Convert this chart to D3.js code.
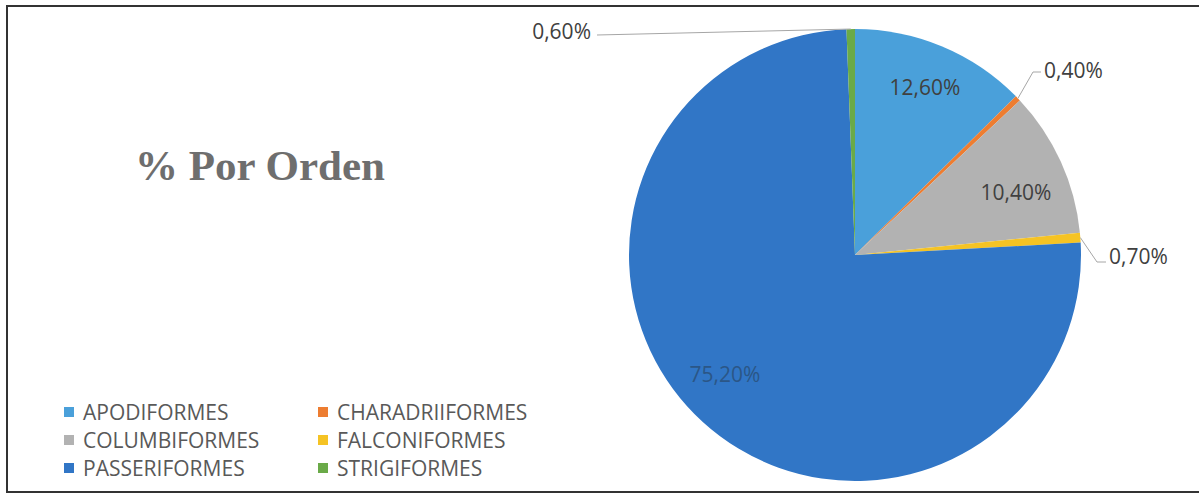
<!DOCTYPE html>
<html><head><meta charset="utf-8">
<script src="https://cdn.jsdelivr.net/npm/d3@7"></script>
<style>body{margin:0;background:#fff}svg{display:block}</style>
</head><body>
<svg id="c" width="1199" height="494"></svg>
<script>
const categories = ["APODIFORMES","CHARADRIIFORMES","COLUMBIFORMES","FALCONIFORMES","PASSERIFORMES","STRIGIFORMES"];
const values = [12.6, 0.4, 10.4, 0.7, 75.2, 0.6];
const labels = ["12,60%","0,40%","10,40%","0,70%","75,20%","0,60%"];
const colors = ["#4aa0da","#ed7d31","#b2b2b2","#f5c324","#3176c6","#6aaa48"];
const legendOrder = [0,1,2,3,4,5];

const svg = d3.select("#c");
svg.append("rect").attr("x",7).attr("y",6).attr("width",1200).attr("height",486)
  .attr("fill","none").attr("stroke","#333").attr("stroke-width",2);

svg.append("text").attr("x",260).attr("y",180).attr("text-anchor","middle")
  .attr("font-family","Liberation Serif").attr("font-weight","bold").attr("font-size",43)
  .attr("fill","#6e6e6e").text("% Por Orden");

const cx=855, cy=255, R=226;
const g = svg.append("g").attr("transform",`translate(${cx},${cy})`);
const pie = d3.pie().sort(null).value(d=>d)(values);
const arc = d3.arc().innerRadius(0).outerRadius(R);
g.selectAll("path").data(pie).join("path").attr("d",arc).attr("fill",(d,i)=>colors[i]);

const FS = 21;
const insidePos = {0:[70,-168],2:[161,-63],4:[-130,119]};
[0,2,4].forEach(i=>{
  g.append("text").attr("x",insidePos[i][0]).attr("y",insidePos[i][1]).attr("text-anchor","middle")
   .attr("dominant-baseline","central").attr("font-family","Open Sans").attr("font-size",FS)
   .attr("fill", i===4?"#2b5687":"#404040").text(labels[i]);
});

function edge(i){const a=(pie[i].startAngle+pie[i].endAngle)/2;return [Math.sin(a)*R,-Math.cos(a)*R];}
const leadStroke="#a6a6a6";
let e=edge(5);
g.append("path").attr("d",`M${e[0]},${e[1]}L${597-cx},${35-cy}`).attr("stroke",leadStroke).attr("fill","none");
g.append("text").attr("x",591-cx).attr("y",31-cy).attr("text-anchor","end").attr("dominant-baseline","central")
 .attr("font-family","Open Sans").attr("font-size",FS).attr("fill","#404040").text(labels[5]);
e=edge(1);
g.append("path").attr("d",`M${e[0]},${e[1]}L${1033-cx},${72-cy}L${1041-cx},${72-cy}`).attr("stroke",leadStroke).attr("fill","none");
g.append("text").attr("x",1044-cx).attr("y",70-cy).attr("dominant-baseline","central")
 .attr("font-family","Open Sans").attr("font-size",FS).attr("fill","#404040").text(labels[1]);
e=edge(3);
g.append("path").attr("d",`M${e[0]},${e[1]}L${1097-cx},${262-cy}L${1106-cx},${262-cy}`).attr("stroke",leadStroke).attr("fill","none");
g.append("text").attr("x",1109-cx).attr("y",256-cy).attr("dominant-baseline","central")
 .attr("font-family","Open Sans").attr("font-size",FS).attr("fill","#404040").text(labels[3]);

const lg = svg.append("g");
legendOrder.forEach((i,k)=>{
  const col=k%2, row=Math.floor(k/2);
  const x = col===0?64:318, y=412+row*28;
  lg.append("rect").attr("x",x).attr("y",y-5).attr("width",10).attr("height",10).attr("fill",colors[i]);
  lg.append("text").attr("x",x+19).attr("y",y).attr("dominant-baseline","central")
    .attr("font-family","Open Sans").attr("font-size",21).attr("fill","#595959").text(categories[i]);
});
</script>
</body></html>
